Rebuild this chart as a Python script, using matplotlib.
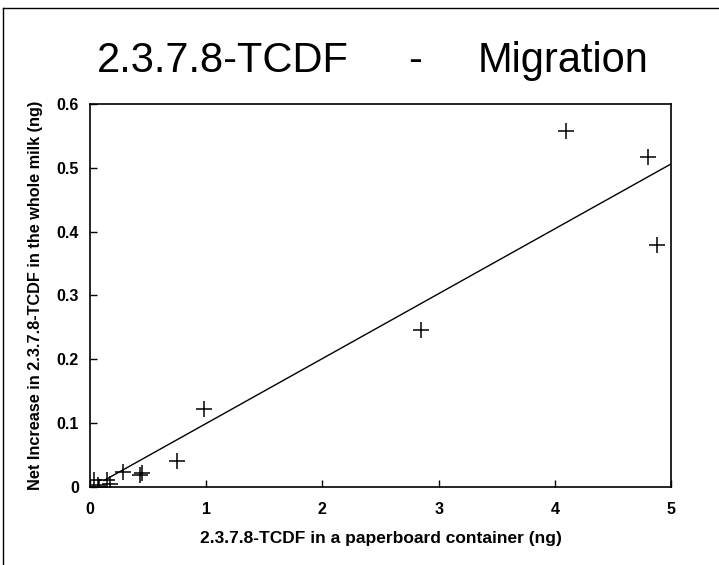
import matplotlib.pyplot as plt
from matplotlib.lines import Line2D

# paperboard content (ng) vs. net increase in milk (ng)
board_ng = [0.03, 0.07, 0.08, 0.15, 0.17, 0.28, 0.43, 0.45, 0.75, 0.98, 2.85, 4.10, 4.80, 4.88]
milk_ng = [0.011, 0.003, 0.0, 0.011, 0.004, 0.024, 0.019, 0.022, 0.041, 0.122, 0.246, 0.558, 0.517, 0.379]

# regression line
slope = 0.1016
intercept = -0.002
fit_x = [0.12, 5.0]
fit_y = [slope * v + intercept for v in fit_x]

xticks = [0, 1, 2, 3, 4, 5]
yticks = [0, 0.1, 0.2, 0.3, 0.4, 0.5, 0.6]
ytick_labels = ['0', '0.1', '0.2', '0.3', '0.4', '0.5', '0.6']

plt.rcParams['font.family'] = ['Liberation Sans', 'DejaVu Sans']

fig = plt.figure(figsize=(7.19, 5.65), dpi=100)
ax = fig.add_axes([0.1252, 0.138, 0.808, 0.678])

ax.plot(board_ng, milk_ng, '+', color='black', markersize=11, markeredgewidth=1.1)
ax.plot(fit_x, fit_y, '-', color='black', linewidth=1.0)

ax.set_xlim(0, 5)
ax.set_ylim(0, 0.6)
ax.set_xticks(xticks)
ax.set_yticks(yticks)
ax.set_yticklabels(ytick_labels)
ax.tick_params(direction='in', length=5, width=1, labelsize=11.5)
ax.tick_params(axis='x', pad=11)
ax.tick_params(axis='y', pad=8)
for lbl in ax.get_xticklabels() + ax.get_yticklabels():
    lbl.set_fontweight('bold')
for s in ax.spines.values():
    s.set_linewidth(1.2)

ax.set_xlabel('2.3.7.8-TCDF in a paperboard container (ng)', fontsize=12.5, fontweight='bold', labelpad=10)
ax.set_ylabel('Net Increase in 2.3.7.8-TCDF in the whole milk (ng)', fontsize=11.7, fontweight='bold', labelpad=10)

# title in three pieces, spaced like the original
ty = 1 - 72 / 565
fig.text(223 / 719, ty, '2.3.7.8-TCDF', ha='center', va='baseline', fontsize=30)
fig.text(415 / 719, ty, '-', ha='center', va='baseline', fontsize=30)
fig.text(563 / 719, ty, 'Migration', ha='center', va='baseline', fontsize=30)

# outer frame of the scanned page
fig.add_artist(Line2D([0.004, 0.004], [0.0, 0.986], color='black', linewidth=1.0))
fig.add_artist(Line2D([0.004, 1.0], [0.986, 0.986], color='black', linewidth=1.0))

fig.savefig('out.png', dpi=100)
